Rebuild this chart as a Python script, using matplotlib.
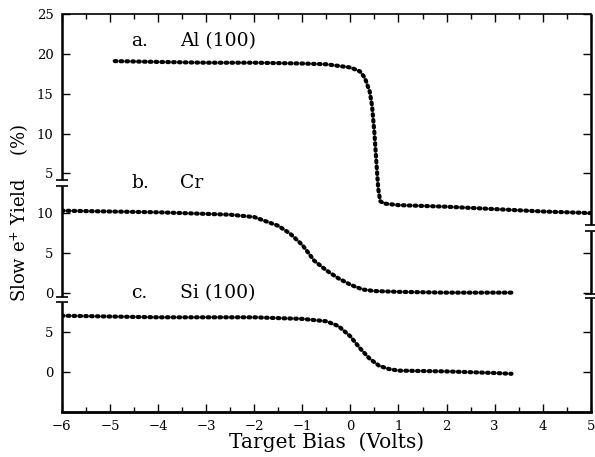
import matplotlib
matplotlib.use("Agg")
import matplotlib.pyplot as plt
import matplotlib.transforms as mtransforms
from matplotlib.ticker import FixedLocator, MultipleLocator

# ---- data ----
al_bias = [-4.9, -4.0, -3.0, -2.0, -1.0, -0.5, 0.0, 0.2, 0.3, 0.4, 0.45, 0.5, 0.55, 0.58, 0.62, 0.7, 1.0, 2.0, 3.0, 4.0, 5.0]
al_yield = [19.1, 19.0, 18.9, 18.9, 18.8, 18.7, 18.3, 17.8, 17.0, 15.3, 13.5, 10.0, 5.5, 3.0, 1.5, 1.2, 1.0, 0.8, 0.5, 0.2, 0.0]

cr_bias = [-6.0, -5.0, -4.0, -3.0, -2.5, -2.0, -1.5, -1.25, -1.0, -0.75, -0.5, -0.25, 0.0, 0.25, 0.5, 1.0, 2.0, 3.0, 3.4]
cr_yield = [10.3, 10.2, 10.1, 9.9, 9.8, 9.5, 8.4, 7.4, 6.0, 4.0, 2.8, 1.8, 1.0, 0.4, 0.2, 0.1, 0.0, 0.0, 0.0]

si_bias = [-6.0, -5.0, -4.0, -3.0, -2.0, -1.0, -0.5, -0.25, 0.0, 0.2, 0.4, 0.6, 0.8, 1.0, 2.0, 3.0, 3.35]
si_yield = [7.1, 7.0, 6.9, 6.9, 6.9, 6.7, 6.4, 5.8, 4.5, 3.0, 1.7, 0.8, 0.4, 0.2, 0.1, -0.1, -0.2]

labels_letter = ["a.", "b.", "c."]
labels_name = ["Al (100)", "Cr", "Si (100)"]

al_ticks = [25, 20, 15, 10, 5]
cr_ticks = [10, 5, 0]
si_ticks = [5, 0]
x_ticks = [-6, -5, -4, -3, -2, -1, 0, 1, 2, 3, 4, 5]

offsets = [0, -10, -20]

plt.rcParams['font.family'] = ['DejaVu Serif']

fig = plt.figure(figsize=(5.95, 4.57), dpi=100)
ax = fig.add_axes([0.104, 0.0985, 0.889, 0.8705])
ax.set_xlim(-6, 5)
ax.set_ylim(-25, 25)

dot_style = dict(color='black', lw=3.0, ls=(0, (0.4, 1.0)), dash_capstyle='round')
ax.plot(al_bias, [v + offsets[0] for v in al_yield], **dot_style)
ax.plot(cr_bias, [v + offsets[1] for v in cr_yield], **dot_style)
ax.plot(si_bias, [v + offsets[2] for v in si_yield], **dot_style)

# ticks
ytick_pos = [v + offsets[0] for v in al_ticks] + [v + offsets[1] for v in cr_ticks] + [v + offsets[2] for v in si_ticks]
ytick_lab = [str(v) for v in al_ticks] + [str(v) for v in cr_ticks] + [str(v) for v in si_ticks]
ax.yaxis.set_major_locator(FixedLocator(ytick_pos))
ax.set_yticklabels(ytick_lab)
ax.xaxis.set_major_locator(FixedLocator(x_ticks))
ax.set_xticklabels([("\u2212" + str(-v)) if v < 0 else str(v) for v in x_ticks])
ax.xaxis.set_minor_locator(MultipleLocator(0.5))
ax.tick_params(axis='both', which='both', direction='in', top=True, right=True, labelsize=9.5, width=1.0)
ax.tick_params(axis='both', which='major', length=6, pad=6)
ax.tick_params(axis='x', which='minor', length=3.5)

# spines with breaks
ax.spines['left'].set_visible(False)
ax.spines['right'].set_visible(False)
ax.spines['top'].set_linewidth(1.2)
ax.spines['bottom'].set_linewidth(2.0)
trans = mtransforms.blended_transform_factory(ax.transAxes, ax.transData)
left_segs = [(-25, -11.2), (-10.5, 3.35), (4.2, 25)]
right_segs = [(-25, -10.7), (-10.2, -2.2), (-1.5, 25)]
for xa, segs in ((0.0, left_segs), (1.0, right_segs)):
    for lo, hi in segs:
        ax.plot([xa, xa], [lo, hi], color='black', lw=1.8, transform=trans, clip_on=False, solid_capstyle='butt')
    for lo, hi in segs[1:]:
        ax.plot([xa], [lo], marker='_', ms=9, mew=1.2, color='black', transform=trans, clip_on=False)
    for lo, hi in segs[:-1]:
        ax.plot([xa], [hi], marker='_', ms=9, mew=1.2, color='black', transform=trans, clip_on=False)

# panel labels
label_y = [21.6, 3.8, -10.0]
for ly, letter, name in zip(label_y, labels_letter, labels_name):
    ax.text(-4.55, ly, letter, fontsize=13.5, ha='left', va='center')
    ax.text(-3.55, ly, name, fontsize=13.5, ha='left', va='center')

ax.set_xlabel("Target Bias  (Volts)", fontsize=14.5)
ax.set_ylabel("Slow e$^{+}$ Yield    (%)", fontsize=13)
ax.xaxis.set_label_coords(0.5, -0.052)
ax.yaxis.set_label_coords(-0.06, 0.501)

fig.savefig("out.png", dpi=100)
